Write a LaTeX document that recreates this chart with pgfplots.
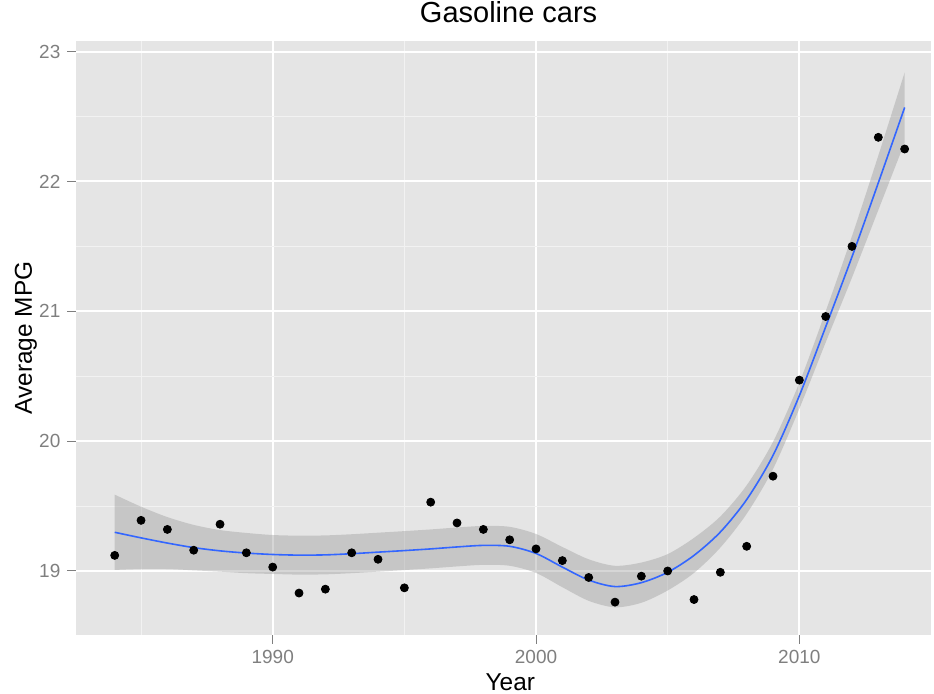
\documentclass[border=0pt]{standalone}
\usepackage{pgfplots}
\pgfplotsset{compat=1.18}
\usepackage{pgfplotstable}
\usepgfplotslibrary{fillbetween}
\usepackage{fontspec}
\setmainfont{Liberation Sans}
\definecolor{panelbg}{HTML}{E5E5E5}
\definecolor{minorgrid}{HTML}{F2F2F2}
\definecolor{tickgray}{HTML}{7F7F7F}
\definecolor{ribbongray}{HTML}{999999}
\definecolor{smoothblue}{HTML}{3366FF}

\pgfplotstableread{
year mpg fit lo hi
1984 19.12 19.298 19.008 19.588
1985 19.39 19.255 19.015 19.495
1986 19.32 19.215 19.015 19.415
1987 19.16 19.180 19.005 19.355
1988 19.36 19.155 18.995 19.315
1989 19.14 19.138 18.983 19.293
1990 19.03 19.127 18.977 19.277
1991 18.83 19.122 18.972 19.272
1992 18.86 19.124 18.974 19.274
1993 19.14 19.133 18.983 19.283
1994 19.09 19.145 18.995 19.295
1995 18.87 19.157 19.007 19.307
1996 19.53 19.170 19.020 19.320
1997 19.37 19.185 19.035 19.335
1998 19.32 19.197 19.047 19.347
1999 19.24 19.190 19.040 19.340
2000 19.17 19.135 18.985 19.285
2001 19.08 19.030 18.875 19.185
2002 18.95 18.930 18.770 19.090
2003 18.76 18.880 18.720 19.040
2004 18.96 18.910 18.755 19.065
2005 19.00 18.990 18.850 19.130
2006 18.78 19.120 18.985 19.255
2007 18.99 19.300 19.180 19.420
2008 19.19 19.550 19.440 19.660
2009 19.73 19.890 19.785 19.995
2010 20.47 20.350 20.250 20.450
2011 20.96 20.880 20.760 21.000
2012 21.50 21.420 21.260 21.580
2013 22.34 21.990 21.780 22.200
2014 22.25 22.570 22.300 22.840
}\data

\begin{document}
\begin{tikzpicture}
\begin{axis}[
  at={(0,0)}, anchor=south west,
  scale only axis, width=427.5pt, height=297pt,
  xmin=1982.53, xmax=2015.0, ymin=18.507, ymax=23.082,
  axis background/.style={fill=panelbg},
  axis line style={draw=none},
  xtick={1990,2000,2010}, ytick={19,20,21,22,23},
  minor xtick={1985,1995,2005}, minor ytick={19.5,20.5,21.5,22.5},
  grid=both,
  major grid style={white, line width=1pt},
  minor grid style={minorgrid, line width=0.5pt},
  tick align=outside, xtick pos=bottom, ytick pos=left,
  major tick length=4.3pt, minor tick length=0pt,
  tick style={tickgray, line width=0.5pt},
  /pgf/number format/assume math mode=true,
  /pgf/number format/1000 sep={},
  ticklabel style={font=\fontsize{9.5}{11}\selectfont, text=tickgray},
  title={Gasoline cars},
  title style={at={(axis description cs:0.506,1)}, anchor=base, yshift=3pt, font=\fontsize{14.5}{17}\selectfont},
  xlabel={Year},
  xlabel style={at={(axis description cs:0.508,0)}, anchor=base, yshift=-27.8pt, font=\fontsize{12.2}{14}\selectfont},
  ylabel={Average MPG},
  ylabel style={at={(axis description cs:-0.0515,0.5)}, anchor=base, font=\fontsize{12.2}{14}\selectfont},
]
\addplot[only marks, mark=*, mark size=2pt, black] table[x=year,y=mpg]{\data};
\addplot[name path=hi, draw=none, smooth, forget plot] table[x=year,y=hi]{\data};
\addplot[name path=lo, draw=none, smooth, forget plot] table[x=year,y=lo]{\data};
\addplot[ribbongray, fill opacity=0.4, draw=none] fill between[of=hi and lo];
\addplot[smoothblue, line width=0.8pt, smooth] table[x=year,y=fit]{\data};
\end{axis}
\pgfresetboundingbox
\path[use as bounding box] (-38pt,-29.5pt) rectangle (429pt,317.5pt);
\end{tikzpicture}
\end{document}
